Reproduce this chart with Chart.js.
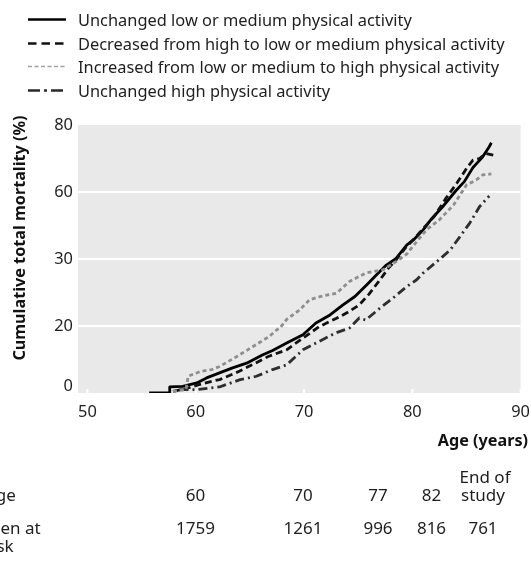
<!DOCTYPE html>
<html><head><meta charset="utf-8">
<script src="https://cdn.jsdelivr.net/npm/chart.js@4/dist/chart.umd.min.js"></script>
<style>
html,body{margin:0;padding:0;background:#fff;width:531px;height:566px;overflow:hidden;}
#wrap{position:relative;width:531px;height:566px;font-family:'Noto Sans',sans-serif;color:#1e1e1e;}
#c{position:absolute;left:0;top:0;}
.t{position:absolute;white-space:nowrap;font-size:16.4px;line-height:20px;height:20px;}
.lg{font-size:16.4px;}
.tb{font-size:17px;line-height:18px;height:18px;}
.c{transform:translateX(-50%);text-align:center;}
.b{font-weight:bold;color:#111;font-size:16.2px;}
</style></head><body>
<div id="wrap">
<canvas id="c" width="531" height="566"></canvas>
<div class="t lg" style="left:78px;top:10px">Unchanged low or medium physical activity</div>
<div class="t lg" style="left:78px;top:34px">Decreased from high to low or medium physical activity</div>
<div class="t lg" style="left:78px;top:57px">Increased from low or medium to high physical activity</div>
<div class="t lg" style="left:78px;top:81px">Unchanged high physical activity</div>
<div class="t b" id="ytitle" style="left:19px;top:238px;transform:translate(-50%,-50%) rotate(-90deg);">Cumulative total mortality (%)</div>
<div class="t b" style="right:3px;top:430px">Age (years)</div>
<div id="table"></div>
</div>
<script>
// ---- data ----
const seriesNames = [
  'Unchanged low or medium physical activity',
  'Decreased from high to low or medium physical activity',
  'Increased from low or medium to high physical activity',
  'Unchanged high physical activity'
];
const agesUnchangedLow = [55.7, 57.6, 57.6, 58.8, 60.1, 61.0, 62.2, 63.4, 64.7, 66.2, 67.1, 68.4, 69.9, 71.1, 72.4, 73.6, 74.7, 75.8, 76.7, 77.6, 78.5, 79.5, 80.1, 81.0, 81.7, 82.8, 84.0, 84.8, 85.6, 86.5, 87.1, 87.3];
const valsUnchangedLow = [0, 0, 1.8, 2.0, 3.0, 4.5, 6.0, 7.5, 8.9, 11.4, 12.7, 14.9, 17.4, 20.9, 23.3, 26.3, 28.8, 32.3, 35.3, 38.2, 40.2, 44.2, 45.7, 48.7, 51.7, 55.6, 60.3, 63.1, 67.3, 70.5, 73.5, 74.7];
const agesDecreased = [57.9, 59.0, 60.3, 61.5, 62.2, 63.7, 65.2, 66.7, 68.4, 69.9, 71.4, 73.0, 74.0, 75.1, 76.0, 76.9, 77.8, 78.5, 79.4, 80.3, 81.4, 82.0, 83.1, 84.1, 85.0, 85.6, 86.2, 86.8, 87.5];
const valsDecreased = [0.5, 1.2, 2.5, 3.5, 4.0, 6.0, 8.4, 10.9, 12.9, 16.4, 19.8, 22.3, 24.0, 26.3, 29.5, 33.3, 37.3, 39.7, 43.5, 46.5, 50.5, 52.6, 58.1, 62.6, 67.0, 69.5, 70.0, 71.5, 71.0];
const agesIncreased = [57.9, 59.1, 59.3, 60.4, 61.5, 62.2, 63.8, 65.3, 66.8, 67.5, 67.8, 68.4, 69.6, 70.5, 71.5, 73.0, 74.2, 75.7, 77.3, 78.5, 79.5, 80.1, 81.3, 82.5, 83.8, 84.5, 85.0, 85.9, 86.5, 87.3];
const valsIncreased = [0.5, 1.0, 5.0, 6.4, 7.0, 7.9, 10.9, 13.9, 16.9, 18.9, 19.5, 22.0, 24.8, 27.8, 28.8, 29.8, 33.3, 35.8, 36.8, 39.2, 41.5, 44.0, 48.7, 51.7, 56.1, 59.6, 62.1, 63.6, 65.1, 65.4];
const agesUnchangedHigh = [58.5, 60.1, 62.2, 64.1, 65.6, 67.1, 68.4, 69.9, 71.1, 72.9, 74.2, 75.1, 75.7, 77.0, 78.2, 79.5, 80.4, 81.0, 82.8, 83.5, 84.4, 85.3, 86.2, 87.1];
const valsUnchangedHigh = [1.0, 1.0, 1.8, 4.0, 5.0, 7.0, 8.4, 12.9, 14.9, 17.9, 19.4, 22.4, 21.8, 25.3, 28.3, 31.8, 33.8, 35.8, 40.7, 42.7, 46.7, 50.7, 55.6, 58.8];

const xTickValues = [50, 60, 70, 80, 90];
const yTickValues = [0, 20, 40, 60, 80];
const yTickLabels = ['0', '20', '30', '60', '80'];

const tableAgeRow = ['60', '70', '77', '82'];
const tableRiskRow = ['1759', '1261', '996', '816', '761'];

// ---- build ----
function pts(a, v) { return a.map((x, i) => ({x: x, y: v[i]})); }
const styles = [
  {color: '#000000', dash: [], legendDash: [], lw: 2.8, lgw: 2.5, lgColor: '#000000'},
  {color: '#111111', dash: [7, 4], legendDash: [8.5, 5], lw: 2.8, lgw: 2.5, lgColor: '#111111'},
  {color: '#8e8e8e', dash: [4, 3], legendDash: [4, 2.5], lw: 2.8, lgw: 1.5, lgColor: '#a0a0a0'},
  {color: '#2e2e2e', dash: [9, 4, 2, 4], legendDash: [12, 4, 3, 4], lw: 2.8, lgw: 2.5, lgColor: '#2a2a2a'}
];
const dataSets = [
  pts(agesUnchangedLow, valsUnchangedLow),
  pts(agesDecreased, valsDecreased),
  pts(agesIncreased, valsIncreased),
  pts(agesUnchangedHigh, valsUnchangedHigh)
];
const order = [2, 3, 1, 0];
const datasets = order.map(i => ({
  label: seriesNames[i],
  data: dataSets[i],
  borderColor: styles[i].color,
  borderDash: styles[i].dash,
  borderWidth: styles[i].lw,
  pointRadius: 0,
  fill: false,
  tension: 0,
  borderCapStyle: 'butt',
  borderJoinStyle: 'round'
}));

const bgPlugin = {
  id: 'bg',
  beforeDraw(chart) {
    const {ctx, chartArea: a} = chart;
    ctx.save();
    ctx.fillStyle = '#e9e9e9';
    ctx.fillRect(a.left, a.top, a.right - a.left, a.bottom - a.top);
    ctx.restore();
  },
  beforeDatasetsDraw(chart) {
    const {ctx, chartArea: a, scales} = chart;
    ctx.save();
    ctx.strokeStyle = '#ffffff';
    ctx.lineWidth = 2;
    xTickValues.forEach(v => {
      const x = scales.x.getPixelForValue(v);
      ctx.beginPath();
      ctx.moveTo(x, a.bottom);
      ctx.lineTo(x, a.bottom - 4);
      ctx.stroke();
    });
    ctx.restore();
  },
  afterDraw(chart) {
    const ctx = chart.ctx;
    const rowsY = [19.5, 43.5, 66.5, 90.5];
    ctx.save();
    for (let i = 0; i < 4; i++) {
      ctx.beginPath();
      ctx.strokeStyle = styles[i].lgColor;
      ctx.lineWidth = styles[i].lgw;
      ctx.setLineDash(styles[i].legendDash);
      ctx.moveTo(28, rowsY[i]);
      ctx.lineTo(i === 1 ? 64 : 66, rowsY[i]);
      ctx.stroke();
    }
    ctx.restore();
  }
};

const tickFont = {family: "'Noto Sans', sans-serif", size: 16.4, lineHeight: 0.85};
new Chart(document.getElementById('c'), {
  type: 'line',
  data: {datasets},
  plugins: [bgPlugin],
  options: {
    responsive: false,
    animation: false,
    devicePixelRatio: 1,
    layout: {padding: {top: 125, right: 10, left: 0, bottom: 143}},
    plugins: {legend: {display: false}, tooltip: {enabled: false}},
    scales: {
      x: {
        type: 'linear', min: 49.13, max: 90,
        afterBuildTicks: s => { s.ticks = xTickValues.map(v => ({value: v})); },
        afterFit: s => { s.height = 30; },
        grid: {display: false},
        border: {display: false},
        ticks: {font: {family: "'Noto Sans', sans-serif", size: 16.4}, color: '#1e1e1e', padding: 1, maxRotation: 0, autoSkip: false,
                callback: v => String(v)}
      },
      y: {
        type: 'linear', min: 0, max: 80,
        afterBuildTicks: s => { s.ticks = yTickValues.map(v => ({value: v})); },
        afterFit: s => { s.width = 78; },
        grid: {drawTicks: false, lineWidth: 2,
               color: c => (c.tick && c.tick.value > 0 && c.tick.value < 80) ? '#ffffff' : 'rgba(0,0,0,0)'},
        border: {display: false},
        ticks: {font: tickFont, color: '#1e1e1e', padding: 5, autoSkip: false,
                callback: (v) => {
                  const lab = yTickLabels[yTickValues.indexOf(v)];
                  return v === 0 ? [lab, ''] : lab;
                }}
      }
    }
  }
});

// table below the chart (columns centred under the matching ages)
const tbl = document.getElementById('table');
function addText(txt, left, top, centred) {
  const d = document.createElement('div');
  d.className = 't tb' + (centred ? ' c' : '');
  d.style.left = left + 'px';
  d.style.top = top + 'px';
  d.textContent = txt;
  tbl.appendChild(d);
}
const colCentres = [195.5, 303, 378, 431.5, 483];
addText('Age', -15, 486);
tableAgeRow.forEach((t, i) => addText(t, colCentres[i], 486, true));
addText('End of', colCentres[4] + 2, 468, true);
addText('study', colCentres[4], 486, true);
addText('Men at', -15, 519);
addText('risk', -15, 537);
tableRiskRow.forEach((t, i) => addText(t, colCentres[i], 519, true));
</script>
</body></html>
